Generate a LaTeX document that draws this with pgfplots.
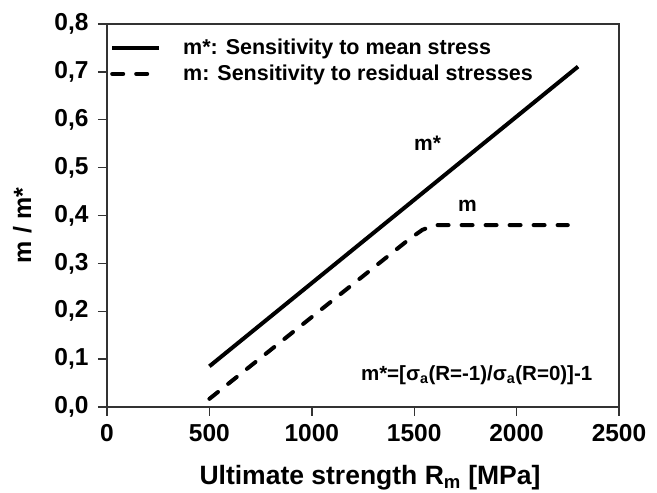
\documentclass[border=0pt]{standalone}
\usepackage{pgfplots}
\pgfplotsset{compat=1.18}
\usetikzlibrary{calc}
\usepackage{fontspec}
\setmainfont{Liberation Sans}
\begin{document}
\begin{tikzpicture}
\begin{axis}[
  scale only axis,
  width=512pt, height=383pt,
  xmin=0, xmax=2500, ymin=0, ymax=0.8,
  xtick={0,500,...,2500},
  ytick={0,0.1,...,0.8},
  axis line style={line width=1.6pt, black!80},
  tick style={line width=1.4pt, black!80},
  tick align=outside,
  major tick length=9pt,
  xtick pos=bottom, ytick pos=left,
  /pgf/number format/assume math mode=true,
  /pgf/number format/use comma,
  /pgf/number format/fixed,
  /pgf/number format/fixed zerofill,
  /pgf/number format/precision=1,
  xticklabel style={/pgf/number format/precision=0, /pgf/number format/1000 sep={}, font=\fontsize{24.5}{28}\selectfont\bfseries, yshift=-5pt},
  yticklabel style={font=\fontsize{24.5}{28}\selectfont\bfseries, xshift=-6pt},
  scaled ticks=false,
  xlabel={Ultimate strength R\textsubscript{m} [MPa]},
  ylabel={m / m*},
  xlabel style={font=\fontsize{26.5}{30}\selectfont\bfseries, yshift=-17pt, xshift=7pt},
  ylabel style={font=\fontsize{25}{29}\selectfont\bfseries, yshift=16pt, xshift=-10pt},
  legend style={draw=none, fill=none, at={(0.0,1)}, anchor=north west, yshift=-11pt,
    font=\fontsize{21.5}{25}\selectfont\bfseries, row sep=5pt, inner sep=2pt},
  legend cell align=left,
  legend image code/.code={\draw[#1] (3pt,0pt) -- (50pt,0pt); \path[draw=none,fill=none] (0pt,0pt) -- (72pt,0pt);},
  clip=false,
]
\addplot[black, line width=4pt] coordinates {(500,0.085) (2300,0.711)};
\addlegendentry{m*: Sensitivity to mean stress}
\addplot[black, line width=4pt, dash pattern=on 11pt off 13pt, line cap=round] coordinates {(500,0.017) (1480,0.352) (1540,0.37) (1600,0.38) (2250,0.38)};
\addlegendentry{m: Sensitivity to residual stresses}
\node[font=\fontsize{21}{24}\selectfont\bfseries] at (axis cs:1565,0.55) {m*};
\node[font=\fontsize{21}{24}\selectfont\bfseries] at (axis cs:1760,0.42) {m};
\node[font=\fontsize{20.5}{24}\selectfont\bfseries] at (axis cs:1805,0.066) {m*=[σ\textsubscript{a}(R=-1)/σ\textsubscript{a}(R=0)]-1};
\end{axis}
\pgfresetboundingbox
\path ($(current axis.south west)+(-107pt,-86pt)$) rectangle ($(current axis.north east)+(38pt,24pt)$);
\end{tikzpicture}
\end{document}
